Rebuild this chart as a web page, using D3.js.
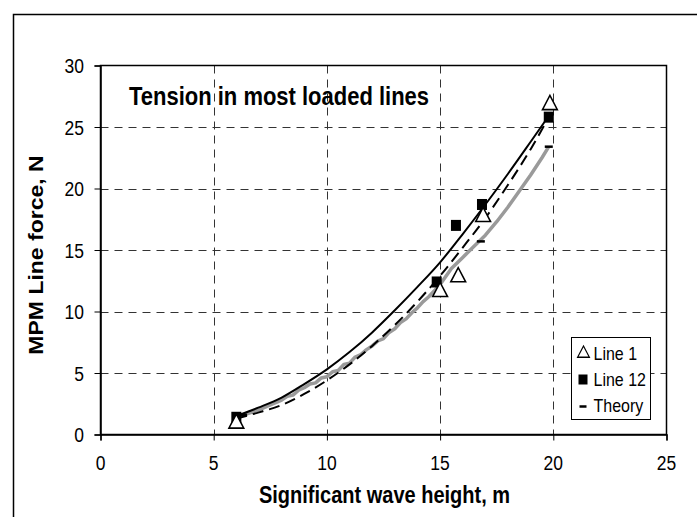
<!DOCTYPE html>
<html>
<head>
<meta charset="utf-8">
<script src="https://cdn.jsdelivr.net/npm/d3@7"></script>
<style>
  body { margin: 0; background: #fff; }
  text { font-family: "Liberation Sans", Arial, sans-serif; }
</style>
</head>
<body>
<div id="vis"></div>
<script>
// measured points
var line1X = [6.0, 15.0, 15.8, 16.9, 19.85];
var line1Y = [0.9, 11.6, 12.8, 17.7, 26.8];

var line12X = [6.0, 14.85, 15.7, 16.85, 19.8];
var line12Y = [1.4, 12.4, 17.0, 18.7, 25.8];

// theory markers (dash)
var theoryX = [6.3, 16.8, 19.8];
var theoryY = [1.6, 15.7, 23.4];

// fitted curve through the measurements (solid)
var fitSolidX = [6, 7, 8, 9, 10, 11, 12, 13, 14, 15, 16, 17, 18, 19, 19.8];
var fitSolidY = [1.5, 2.2, 3.0, 4.1, 5.3, 6.7, 8.3, 10.1, 12.0, 14.0, 16.3, 18.7, 21.2, 23.8, 25.9];

// fitted curve (dashed)
var fitDashX = [6, 7, 8, 9, 10, 11, 12, 13, 14, 15, 16, 17, 18, 19, 19.8];
var fitDashY = [1.3, 1.8, 2.4, 3.3, 4.4, 5.7, 7.2, 8.9, 10.8, 12.9, 15.2, 17.6, 20.3, 23.2, 25.8];

// simulated time series (grey)
var simX = [6.2, 6.5, 7, 7.5, 8, 8.25, 8.5, 8.75, 9, 9.25, 9.5, 9.75, 10, 10.25, 10.5, 10.75, 11, 11.25, 11.5, 11.75, 12,
            12.25, 12.5, 12.75, 13, 13.25, 13.5, 13.75, 14, 14.25, 14.5, 14.75, 15, 15.5, 16, 16.5, 17, 17.5, 18, 18.5, 19, 19.5, 19.8];
var simY = [1.5, 1.7, 2.0, 2.4, 2.8, 3.1, 3.2, 3.6, 3.8, 4.1, 4.2, 4.6, 4.7, 5.1, 5.2, 5.7, 5.8, 6.3, 6.5, 6.9, 7.2,
            7.6, 7.8, 8.3, 8.6, 9.1, 9.4, 9.9, 10.3, 10.8, 11.2, 11.7, 12.2, 13.5, 14.4, 15.3, 16.2, 17.3, 18.5, 19.8, 21.1, 22.5, 23.4];

var xTicks = [0, 5, 10, 15, 20, 25];
var yTicks = [0, 5, 10, 15, 20, 25, 30];

var legendLabels = ['Line 1', 'Line 12', 'Theory'];

var width = 697;
var height = 517;
var plot = { left: 100.5, right: 666.5, top: 65.5, bottom: 434.5 };
var stretch = 1.15; // glyphs in the original are a bit tall

var svg = d3.select('#vis').append('svg')
  .attr('width', width)
  .attr('height', height);

// text placed at (tx, ty) baseline, stretched vertically
function label(parent, tx, ty, str, size, anchor, bold) {
  return parent.append('text')
    .attr('transform', 'translate(' + tx + ',' + ty + ') scale(1,' + stretch + ')')
    .attr('text-anchor', anchor || 'start')
    .attr('font-size', size)
    .attr('font-weight', bold ? 'bold' : 'normal')
    .attr('fill', '#000')
    .text(str);
}

// outer chart frame (runs off the right / bottom)
svg.append('rect')
  .attr('x', 13.5).attr('y', 14.5)
  .attr('width', 720).attr('height', 540)
  .attr('fill', 'none')
  .attr('stroke', '#000')
  .attr('stroke-width', 1.5);

var x = d3.scaleLinear().domain([0, 25]).range([plot.left, plot.right]);
var y = d3.scaleLinear().domain([0, 30]).range([plot.bottom, plot.top]);

// gridlines
svg.append('g').selectAll('line')
  .data(yTicks.filter(function (d) { return d > 0 && d < 30; }))
  .enter().append('line')
  .attr('x1', plot.left).attr('x2', plot.right)
  .attr('y1', function (d) { return Math.round(y(d)) + 0.5; })
  .attr('y2', function (d) { return Math.round(y(d)) + 0.5; })
  .attr('stroke', '#333').attr('stroke-dasharray', '8,6');

svg.append('g').selectAll('line')
  .data(xTicks.filter(function (d) { return d > 0 && d < 25; }))
  .enter().append('line')
  .attr('y1', plot.top).attr('y2', plot.bottom)
  .attr('x1', function (d) { return Math.round(x(d)) + 0.5; })
  .attr('x2', function (d) { return Math.round(x(d)) + 0.5; })
  .attr('stroke', '#333').attr('stroke-dasharray', '8,6');

// plot border
svg.append('rect')
  .attr('x', plot.left).attr('y', plot.top)
  .attr('width', plot.right - plot.left).attr('height', plot.bottom - plot.top)
  .attr('fill', 'none').attr('stroke', '#000').attr('stroke-width', 1.5);

// axes (ticks + domain), labels drawn separately
var xAxis = svg.append('g')
  .attr('transform', 'translate(0,' + plot.bottom + ')')
  .call(d3.axisBottom(x).tickValues(xTicks).tickSize(6).tickFormat(''));
var yAxis = svg.append('g')
  .attr('transform', 'translate(' + plot.left + ',0)')
  .call(d3.axisLeft(y).tickValues(yTicks).tickSize(6).tickFormat(''));

[xAxis, yAxis].forEach(function (a) {
  a.select('.domain').attr('stroke', '#000').attr('stroke-width', 1.5);
  a.selectAll('.tick line').attr('stroke', '#000').attr('stroke-width', 1);
});

var tickLabels = svg.append('g');
xTicks.forEach(function (d) { label(tickLabels, x(d), 470, d, 17.5, 'middle'); });
yTicks.forEach(function (d) { label(tickLabels, 84, y(d) + 7.5, d, 17.5, 'end'); });

// axis titles
label(svg, (plot.left + plot.right) / 2 + 1, 503, 'Significant wave height, m', 20, 'middle', true);

svg.append('text')
  .attr('transform', 'translate(43,' + ((plot.top + plot.bottom) / 2 + 5) + ') scale(1,' + stretch + ') rotate(-90)')
  .attr('text-anchor', 'middle')
  .attr('font-size', 20).attr('font-weight', 'bold')
  .text('MPM Line force, N');

// chart title inside the plot
label(svg, 129, 105, 'Tension in most loaded lines', 22, 'start', true);

// curves
function pts(xs, ys) {
  return xs.map(function (d, i) { return [d, ys[i]]; });
}
var line = d3.line()
  .x(function (d) { return x(d[0]); })
  .y(function (d) { return y(d[1]); });
var smooth = d3.line()
  .curve(d3.curveMonotoneX)
  .x(function (d) { return x(d[0]); })
  .y(function (d) { return y(d[1]); });

svg.append('path')
  .datum(pts(simX, simY))
  .attr('d', line)
  .attr('fill', 'none').attr('stroke', '#9a9a9a').attr('stroke-width', 3.5)
  .attr('stroke-linejoin', 'round');

svg.append('path')
  .datum(pts(fitDashX, fitDashY))
  .attr('d', smooth)
  .attr('fill', 'none').attr('stroke', '#000').attr('stroke-width', 2)
  .attr('stroke-dasharray', '11,6');

svg.append('path')
  .datum(pts(fitSolidX, fitSolidY))
  .attr('d', smooth)
  .attr('fill', 'none').attr('stroke', '#000').attr('stroke-width', 2);

// markers
var tri = d3.symbol().type(d3.symbolTriangle).size(95);

svg.append('g').selectAll('rect')
  .data(pts(line12X, line12Y))
  .enter().append('rect')
  .attr('x', function (d) { return x(d[0]) - 5; })
  .attr('y', function (d) { return y(d[1]) - 5.5; })
  .attr('width', 10).attr('height', 11)
  .attr('fill', '#000');

svg.append('g').selectAll('path')
  .data(pts(line1X, line1Y))
  .enter().append('path')
  .attr('d', tri)
  .attr('transform', function (d) { return 'translate(' + x(d[0]) + ',' + y(d[1]) + ') scale(1,1.1)'; })
  .attr('fill', '#fff').attr('stroke', '#000').attr('stroke-width', 1.5);

svg.append('g').selectAll('line')
  .data(pts(theoryX, theoryY))
  .enter().append('line')
  .attr('x1', function (d) { return x(d[0]) - 4; })
  .attr('x2', function (d) { return x(d[0]) + 4; })
  .attr('y1', function (d) { return y(d[1]); })
  .attr('y2', function (d) { return y(d[1]); })
  .attr('stroke', '#000').attr('stroke-width', 2.5);

// legend
var legend = svg.append('g').attr('transform', 'translate(571.5,337.5)');
legend.append('rect')
  .attr('width', 79).attr('height', 82)
  .attr('fill', '#fff').attr('stroke', '#000').attr('stroke-width', 1);

legendLabels.forEach(function (d, i) {
  var row = legend.append('g').attr('transform', 'translate(0,' + (15 + i * 26) + ')');
  label(row, 22, 7, d, 16, 'start');
  if (i === 0) {
    row.append('path').attr('d', d3.symbol().type(d3.symbolTriangle).size(60))
      .attr('transform', 'translate(12,1) scale(1,1.1)')
      .attr('fill', '#fff').attr('stroke', '#000').attr('stroke-width', 1.2);
  } else if (i === 1) {
    row.append('rect').attr('x', 7).attr('y', -4).attr('width', 9).attr('height', 10).attr('fill', '#000');
  } else {
    row.append('line').attr('x1', 8).attr('x2', 15).attr('y1', 2).attr('y2', 2)
      .attr('stroke', '#000').attr('stroke-width', 2.5);
  }
});
</script>
</body>
</html>
